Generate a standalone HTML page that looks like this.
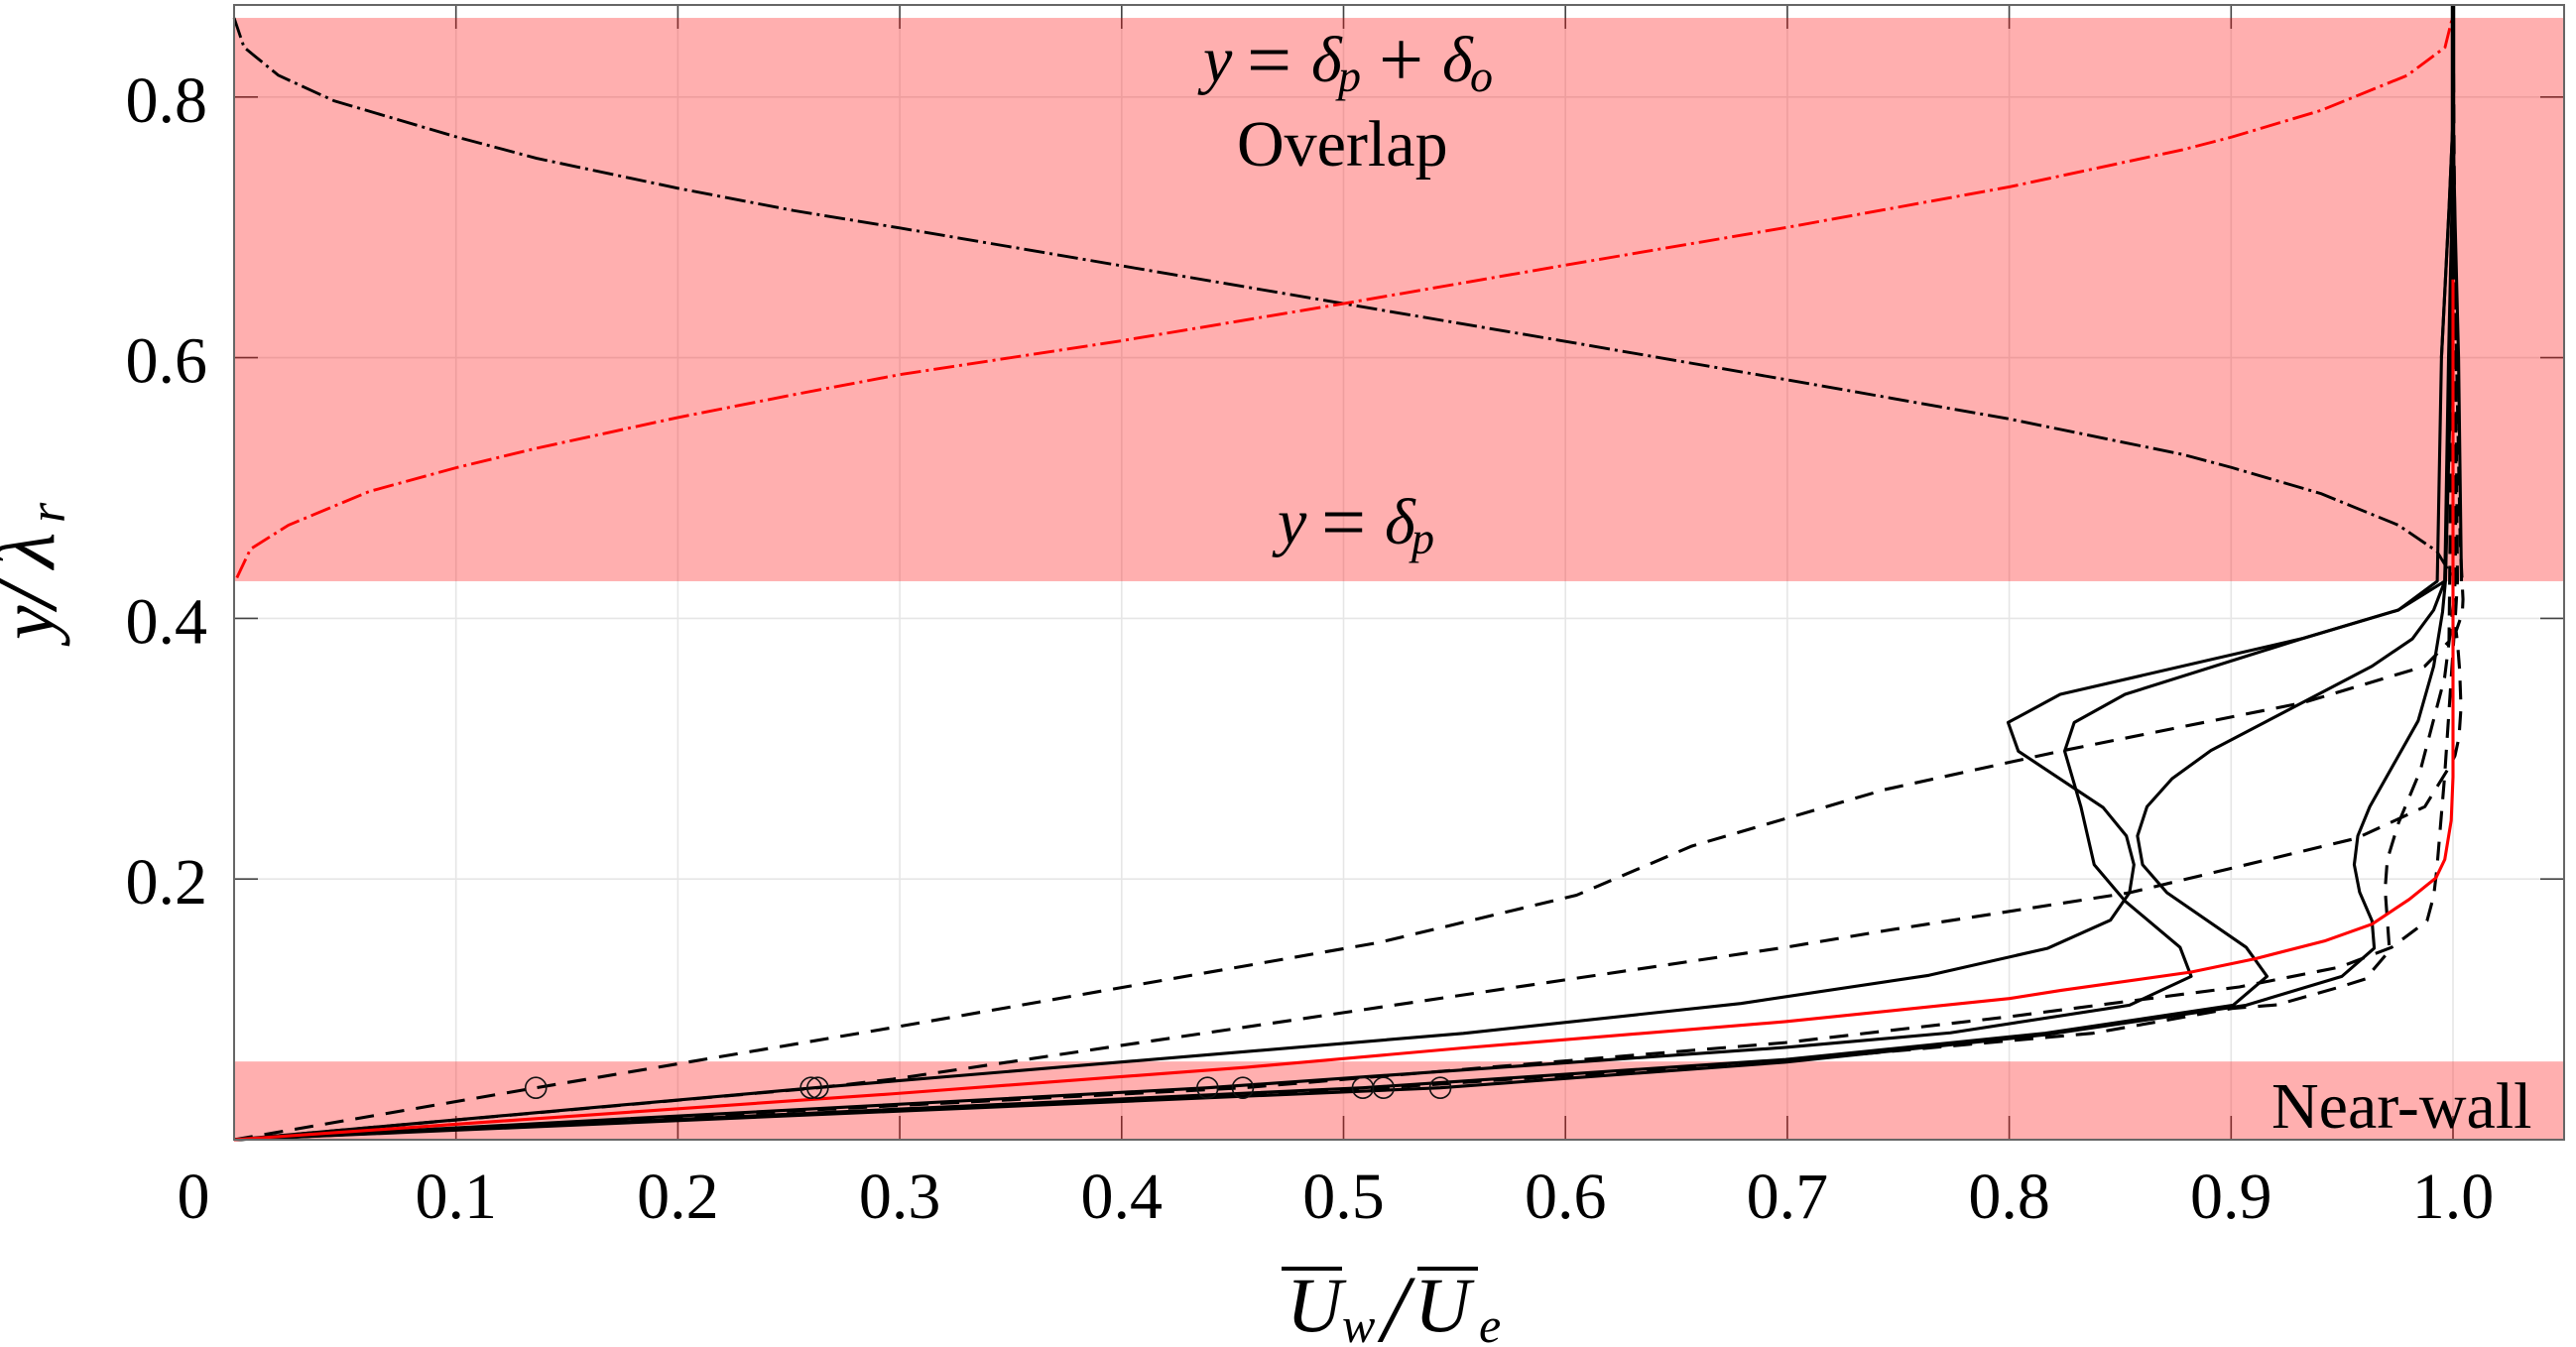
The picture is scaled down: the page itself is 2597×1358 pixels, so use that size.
<!DOCTYPE html>
<html lang="en">
<head>
<meta charset="utf-8">
<title>Velocity profile chart</title>
<style>
html,body{margin:0;padding:0;background:#fff;width:2597px;height:1358px;overflow:hidden}
svg{display:block}
text{font-family:"Liberation Serif",serif;fill:#000}
.it{font-style:italic}
</style>
</head>
<body>
<svg id="chart" xmlns="http://www.w3.org/2000/svg" width="2597" height="1358" viewBox="0 0 2597 1358">
  <g id="grid"></g>
  <g id="ticks"></g>
  <g id="bands"></g>
  <g id="series"></g>
  <g id="markers"></g>
  <rect x="236" y="5" width="2349" height="1144" fill="none" stroke="#666" stroke-width="2"/>
  <g id="tick-labels"></g>

  <text font-size="66">
    <tspan class="it" x="1213" y="82">y</tspan><tspan x="1257" y="87" font-size="80">=</tspan><tspan class="it" x="1322" y="82">δ</tspan><tspan class="it" x="1349" y="92" font-size="46">p</tspan><tspan x="1390" y="87" font-size="80">+</tspan><tspan class="it" x="1454" y="82">δ</tspan><tspan class="it" x="1482" y="92" font-size="46">o</tspan>
  </text>
  <text x="1247" y="167" font-size="66">Overlap</text>
  <text font-size="66">
    <tspan class="it" x="1288" y="548">y</tspan><tspan x="1332" y="553" font-size="80">=</tspan><tspan class="it" x="1396" y="548">δ</tspan><tspan class="it" x="1423" y="558" font-size="46">p</tspan>
  </text>
  <text x="2290" y="1137" font-size="66">Near-wall</text>

  <g>
    <rect x="1292" y="1277" width="61" height="4" fill="#000"/>
    <rect x="1429" y="1277" width="61" height="4" fill="#000"/>
    <text font-size="78">
      <tspan class="it" x="1297" y="1342">U</tspan><tspan class="it" x="1353" y="1353" font-size="50">w</tspan><tspan class="it" x="1393" y="1352" font-size="96">/</tspan><tspan class="it" x="1426" y="1342">U</tspan><tspan class="it" x="1491" y="1353" font-size="50">e</tspan>
    </text>
  </g>
  <text font-size="78" transform="translate(54 645) rotate(-90)">
    <tspan class="it" x="0" y="0">y</tspan><tspan class="it" x="32" y="2" font-size="96">/</tspan><tspan class="it" x="72" y="0" font-size="84">λ</tspan><tspan class="it" x="118" y="11" font-size="52">r</tspan>
  </text>
</svg>
<script>
// Tick values and labels
const xTickValues = [0, 0.1, 0.2, 0.3, 0.4, 0.5, 0.6, 0.7, 0.8, 0.9, 1.0];
const xTickLabels = ["0", "0.1", "0.2", "0.3", "0.4", "0.5", "0.6", "0.7", "0.8", "0.9", "1.0"];
const yTickValues = [0, 0.2, 0.4, 0.6, 0.8];
const yTickLabels = ["", "0.2", "0.4", "0.6", "0.8"];

// Shaded regions (y/lambda_r ranges)
const overlapBand = [0.4285, 0.8607];
const nearWallBand = [0, 0.06];

// Solid profiles [U/Ue, y/lambda]
const solidA = [[0,0],[0.2615,0.0398],[0.554,0.0816],[0.679,0.1045],[0.7638,0.1261],[0.8174,0.1469],[0.8456,0.1684],[0.8542,0.1895],[0.8562,0.211],[0.8528,0.2331],[0.8423,0.2549],[0.8041,0.2981],[0.7995,0.3201],[0.823,0.3417],[0.9327,0.3848],[0.9754,0.4064],[0.9929,0.4285],[0.9948,0.6],[0.9983,0.717],[0.9998,0.775],[1,0.87]];
const solidB = [[0,0],[0.4387,0.0398],[0.6992,0.0708],[0.7735,0.082],[0.8542,0.1032],[0.882,0.1253],[0.877,0.1476],[0.8522,0.1831],[0.8383,0.211],[0.8323,0.2555],[0.825,0.2981],[0.8293,0.3201],[0.8522,0.3417],[0.9327,0.3848],[0.9754,0.4064],[0.9963,0.4285],[0.998,0.6],[1,0.75],[1,0.87]];
const solidC = [[0,0],[0.5087,0.0398],[0.6992,0.0615],[0.8162,0.0817],[0.9009,0.1032],[0.9162,0.1253],[0.9068,0.1476],[0.8711,0.1895],[0.8601,0.211],[0.8578,0.2331],[0.8621,0.2555],[0.8734,0.277],[0.8909,0.2986],[0.9635,0.3633],[0.9817,0.3843],[0.9913,0.4064],[0.9963,0.4285],[0.999,0.6],[1,0.75],[1,0.87]];
const solidD = [[0,0],[0.5436,0.0398],[0.6992,0.0595],[0.8162,0.0805],[0.9068,0.1032],[0.9499,0.1253],[0.9645,0.1469],[0.9635,0.1679],[0.9579,0.19],[0.9555,0.211],[0.9571,0.2331],[0.9625,0.2555],[0.9843,0.3214],[0.9913,0.3633],[0.9953,0.4051],[0.9966,0.4285],[0.9985,0.55],[1,0.7],[1,0.87]];

// Dashed profiles [U/Ue, y/lambda]
const dashedA = [[0,0],[0.136,0.0398],[0.2968,0.086],[0.5163,0.1514],[0.605,0.1876],[0.657,0.2253],[0.7439,0.2686],[0.8244,0.2986],[0.9327,0.3354],[0.9873,0.3633],[0.9982,0.3823],[0.9985,0.4285],[0.9995,0.6],[1,0.87]];
const dashedB = [[0,0],[0.263,0.0398],[0.2968,0.0464],[0.6992,0.1476],[0.7439,0.1603],[0.8542,0.1895],[0.9566,0.2313],[0.9873,0.2555],[0.9983,0.2859],[1.0009,0.2947],[1.0027,0.3087],[1.0036,0.3316],[1.003,0.36],[1.0021,0.38],[1.0014,0.3902],[1.0042,0.404],[1.0045,0.4145],[1.0033,0.4558],[1.001,0.65],[1,0.75],[1,0.87]];
const dashedC = [[0,0],[0.4546,0.0398],[0.6992,0.0745],[0.8,0.0944],[0.9037,0.1172],[0.949,0.1324],[0.9645,0.1425],[0.9724,0.1476],[0.9883,0.1679],[0.9913,0.187],[0.9927,0.2072],[0.9962,0.2783],[0.9992,0.3544],[1.0012,0.405],[1.002,0.4285],[1.001,0.65],[1,0.87]];
const dashedD = [[0,0],[0.518,0.0398],[0.6992,0.0605],[0.8377,0.0817],[0.8673,0.0906],[0.9003,0.1007],[0.9207,0.1035],[0.9491,0.1172],[0.9605,0.1233],[0.9714,0.1451],[0.9694,0.192],[0.9704,0.2149],[0.9754,0.2428],[0.9853,0.2834],[0.9962,0.3544],[0.9992,0.395],[1.001,0.4285],[1.0015,0.6],[1,0.8],[1,0.87]];

// Reference curves
const redProfile = [[0,0],[0.2968,0.0352],[0.456,0.0555],[0.5534,0.0703],[0.6992,0.0906],[0.8,0.1083],[0.8234,0.1146],[0.882,0.1286],[0.9108,0.1388],[0.9426,0.1527],[0.9635,0.1654],[0.9803,0.1844],[0.9923,0.2009],[0.9963,0.215],[0.9992,0.245],[1,0.2783],[1,0.3797],[1,0.87]];
const blackBlend = [[0,0.8607],[0.0045,0.8381],[0.02,0.8166],[0.045,0.7971],[0.1004,0.7693],[0.1363,0.753],[0.2003,0.7299],[0.2521,0.7129],[0.3,0.6995],[0.4,0.6705],[0.5,0.6415],[0.6,0.6125],[0.7,0.583],[0.8,0.553],[0.878,0.5258],[0.9003,0.5157],[0.9405,0.4957],[0.9754,0.4715],[0.9927,0.4515],[0.9994,0.4327]];
const redBlend = [[0.00125,0.4311],[0.0074,0.4532],[0.0245,0.4715],[0.061,0.4974],[0.1004,0.5157],[0.1363,0.5305],[0.2003,0.5542],[0.2521,0.5716],[0.3,0.587],[0.4,0.613],[0.5,0.6415],[0.6,0.671],[0.7,0.7],[0.8,0.731],[0.878,0.7595],[0.9003,0.7693],[0.9405,0.7897],[0.9794,0.8166],[0.9964,0.8381],[0.9994,0.8587]];

// Bundled profiles merging near the outer edge
const spikeLeft = [[0.9948,0.6],[0.9983,0.717],[0.9998,0.775],[1,0.87]];
const spikeRight = [[1.0038,0.4285],[1.0025,0.6],[1.001,0.7],[1,0.78],[1,0.87]];
const spikeCenter = [[1,0.66],[1,0.87]];

// Circle markers
const markerX = [0.136, 0.26, 0.263, 0.4387, 0.4546, 0.5087, 0.518, 0.5436];
const markerY = [0.0398, 0.0398, 0.0398, 0.0398, 0.0398, 0.0398, 0.0398, 0.0398];

// Axis functions
const PLOT_LEFT = 236, PLOT_RIGHT = 2585, PLOT_TOP = 5, PLOT_BOTTOM = 1149;
const xScale = function (v) { return PLOT_LEFT + v * 2237; };
const yScale = function (v) { return PLOT_BOTTOM - v * 1314; };
const NS = 'http://www.w3.org/2000/svg';

function svgEl(tag, parentId) {
  const el = document.createElementNS(NS, tag);
  document.getElementById(parentId).appendChild(el);
  return el;
}

function setLine(el, x1, y1, x2, y2, color, width) {
  el.setAttribute('x1', x1);
  el.setAttribute('y1', y1);
  el.setAttribute('x2', x2);
  el.setAttribute('y2', y2);
  el.setAttribute('stroke', color);
  el.setAttribute('stroke-width', width);
}

xTickValues.forEach(function (v, i) {
  const px = xScale(v);
  if (v > 0) {
    const g = svgEl('line', 'grid');
    
    
    setLine(g, px, PLOT_TOP, px, PLOT_BOTTOM, '#e6e6e6', 1.6);
    const t1 = svgEl('line', 'ticks');
    
    
    setLine(t1, px, PLOT_TOP, px, PLOT_TOP + 24, '#444', 1.6);
    const t2 = svgEl('line', 'ticks');
    
    
    setLine(t2, px, PLOT_BOTTOM, px, PLOT_BOTTOM - 24, '#444', 1.6);
  }
  const label = svgEl('text', 'tick-labels');
  
  
  label.setAttribute('x', v === 0 ? 195 : px);
  label.setAttribute('y', 1228);
  label.setAttribute('font-size', 66);
  label.setAttribute('text-anchor', 'middle');
  label.textContent = xTickLabels[i];
});

yTickValues.forEach(function (v, i) {
  const py = yScale(v);
  if (v > 0) {
    const g = svgEl('line', 'grid');
    
    
    setLine(g, PLOT_LEFT, py, PLOT_RIGHT, py, '#e6e6e6', 1.6);
    const t1 = svgEl('line', 'ticks');
    
    
    setLine(t1, PLOT_LEFT, py, PLOT_LEFT + 24, py, '#444', 1.6);
    const t2 = svgEl('line', 'ticks');
    
    
    setLine(t2, PLOT_RIGHT, py, PLOT_RIGHT - 24, py, '#444', 1.6);
    const label = svgEl('text', 'tick-labels');
    
    
    label.setAttribute('x', 209);
    label.setAttribute('y', py + 25);
    label.setAttribute('font-size', 66);
    label.setAttribute('text-anchor', 'end');
    label.textContent = yTickLabels[i];
  }
});

function drawBand(range, name) {
  const r = svgEl('rect', 'bands');
  
  
  r.setAttribute('x', PLOT_LEFT);
  r.setAttribute('y', yScale(range[1]));
  r.setAttribute('width', PLOT_RIGHT - PLOT_LEFT);
  r.setAttribute('height', yScale(range[0]) - yScale(range[1]));
  r.setAttribute('fill', 'rgb(255,0,0)');
  r.setAttribute('fill-opacity', '0.315');
}
drawBand(overlapBand, 'overlap-band');
drawBand(nearWallBand, 'near-wall-band');

function drawSeries(points, name, color, width, dash) {
  const p = svgEl('path', 'series');
  
  
  const d = points.map(function (pt, i) {
    return (i ? 'L' : 'M') + xScale(pt[0]).toFixed(2) + ' ' + yScale(pt[1]).toFixed(2);
  }).join('');
  p.setAttribute('d', d);
  p.setAttribute('fill', 'none');
  p.setAttribute('stroke', color);
  p.setAttribute('stroke-width', width);
  p.setAttribute('stroke-linejoin', 'round');
  if (dash) p.setAttribute('stroke-dasharray', dash);
}
drawSeries(blackBlend, 'black-dash-dot-curve', '#000', 2.9, '21 5 3 5');
drawSeries(redBlend, 'red-dash-dot-curve', '#f00', 2.9, '21 5 3 5');
drawSeries(dashedA, 'dashed-profile-a', '#000', 3.1, '19 12');
drawSeries(dashedB, 'dashed-profile-b', '#000', 3.1, '19 12');
drawSeries(dashedC, 'dashed-profile-c', '#000', 3.1, '19 12');
drawSeries(dashedD, 'dashed-profile-d', '#000', 3.1, '19 12');
drawSeries(solidA, 'solid-profile-a', '#000', 3.1, null);
drawSeries(solidB, 'solid-profile-b', '#000', 3.1, null);
drawSeries(solidC, 'solid-profile-c', '#000', 3.1, null);
drawSeries(solidD, 'solid-profile-d', '#000', 3.1, null);
drawSeries(redProfile, 'red-reference-profile', '#f00', 3.1, null);
drawSeries(spikeLeft, 'bundled-profile-left', '#000', 3.1, null);
drawSeries(spikeRight, 'bundled-profile-right', '#000', 3.1, null);
drawSeries(spikeCenter, 'bundled-profile-center', '#000', 4.5, null);

markerX.forEach(function (v, i) {
  const c = svgEl('circle', 'markers');
  
  
  c.setAttribute('cx', xScale(v));
  c.setAttribute('cy', yScale(markerY[i]));
  c.setAttribute('r', 10.5);
  c.setAttribute('fill', 'none');
  c.setAttribute('stroke', '#111');
  c.setAttribute('stroke-width', 1.6);
});
</script>
</body>
</html>
